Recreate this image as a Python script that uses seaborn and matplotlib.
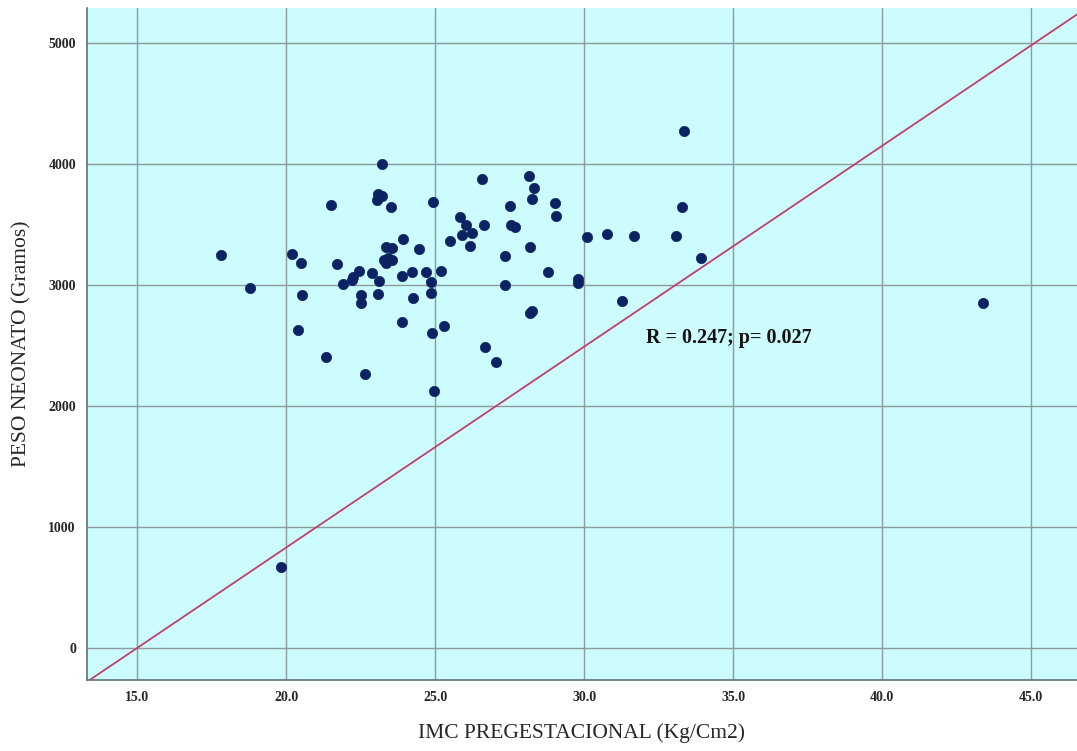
import matplotlib
matplotlib.use("Agg")
import matplotlib.pyplot as plt
import seaborn as sns
import pandas as pd

imc = [17.80, 18.79, 19.83, 20.19, 20.50, 20.55, 20.39, 21.35, 21.51, 21.71,
       21.92, 22.20, 22.26, 22.44, 22.52, 22.52, 22.66, 22.90, 23.08, 23.11,
       23.23, 23.10, 23.22, 23.05, 23.52, 23.35, 23.56, 23.27, 23.43, 23.57,
       23.36, 23.94, 23.88, 23.88, 24.24, 24.25, 24.46, 24.70, 24.86, 24.86,
       24.91, 24.93, 24.98, 25.21, 25.30, 25.50, 25.82, 25.91, 26.05, 26.25,
       26.16, 26.58, 26.65, 26.67, 27.04, 27.36, 27.36, 27.50, 27.55, 27.67,
       28.15, 28.33, 28.26, 28.17, 28.24, 28.20, 28.79, 29.04, 29.07, 29.81,
       29.81, 30.11, 30.78, 31.28, 31.66, 33.10, 33.29, 33.35, 33.93, 43.39]
peso = [3248, 2975, 669, 3256, 3184, 2917, 2628, 2405, 3664, 3174,
        3006, 3041, 3069, 3118, 2917, 2854, 2264, 3102, 2928, 3036,
        4003, 3750, 3735, 3700, 3642, 3314, 3306, 3207, 3220, 3207,
        3184, 3377, 3074, 2697, 3105, 2895, 3297, 3105, 3025, 2936,
        2600, 3686, 2126, 3116, 2664, 3366, 3565, 3413, 3493, 3432,
        3322, 3873, 3493, 2485, 2364, 3237, 2997, 3653, 3498, 3482,
        3904, 3805, 3711, 3314, 2783, 2765, 3105, 3675, 3570, 3047,
        3014, 3394, 3424, 2865, 3405, 3405, 3642, 4270, 3226, 2854]

line_slope = 166.0
line_intercept = -2490.0

x_ticks = [15.0, 20.0, 25.0, 30.0, 35.0, 40.0, 45.0]
x_tick_labels = ["15.0", "20.0", "25.0", "30.0", "35.0", "40.0", "45.0"]
y_ticks = [0, 1000, 2000, 3000, 4000, 5000]
y_tick_labels = ["0", "1000", "2000", "3000", "4000", "5000"]

annotation = "R = 0.247; p= 0.027"
x_label = "IMC PREGESTACIONAL (Kg/Cm2)"
y_label = "PESO NEONATO (Gramos)"

df = pd.DataFrame({"imc": imc, "peso": peso})

sns.set_theme(style="white")
plt.rcParams['font.family'] = ['Liberation Serif', 'DejaVu Serif']

fig = plt.figure(figsize=(10.77, 7.51), dpi=100)
ax = fig.add_axes([87/1077, 1 - 680/751, 1 - 87/1077, (680 - 8)/751])
ax.set_facecolor("#CCFCFD")

ax.set_xlim(13.32, 46.54)
ax.set_ylim(-264, 5289)

ax.grid(True, color="#8E9A9C", linewidth=1.0)
ax.set_axisbelow(True)

ax.axline((0, line_intercept), slope=line_slope, color="#C0406A", linewidth=1.3, zorder=2)

sns.scatterplot(data=df, x="imc", y="peso", ax=ax, color="#0B2263", s=55,
                edgecolor="#0B2263", linewidth=0.5, zorder=3)

ax.set_xticks(x_ticks)
ax.set_xticklabels(x_tick_labels, fontweight="bold", fontsize=10)
ax.set_yticks(y_ticks)
ax.set_yticklabels(y_tick_labels, fontweight="bold", fontsize=10)
ax.tick_params(axis="x", length=0, pad=8)
ax.tick_params(axis="y", length=0, pad=8)

ax.set_xlabel(x_label, fontsize=15.5, labelpad=14)
ax.set_ylabel(y_label, fontsize=15.5, labelpad=12)

for side in ["top", "right"]:
    ax.spines[side].set_visible(False)
for side in ["left", "bottom"]:
    ax.spines[side].set_color("#5E7275")
    ax.spines[side].set_linewidth(1.2)

ax.text(32.08, 2562, annotation, fontsize=14.5, fontweight="bold", va="center", ha="left", color="#111111")

fig.savefig("out.png", dpi=100)
